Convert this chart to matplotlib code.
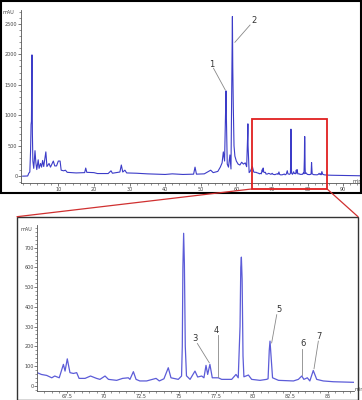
import matplotlib.pyplot as plt
from matplotlib.patches import Rectangle, ConnectionPatch
from matplotlib.ticker import MultipleLocator

# chromatogram trace (retention time in min, absorbance in mAU)
rt = [0.0, 1.4, 1.7, 2.0, 2.2, 2.35, 2.45, 2.6, 2.72, 2.85, 3.1, 3.45, 3.7, 3.95,
      4.35, 4.6, 5.0, 5.3, 5.6, 5.9, 6.5, 6.8, 7.4, 7.8, 8.6, 9.0, 9.5, 10.0, 10.5,
      10.8, 11.5, 12.0, 12.5, 15.0, 17.4, 17.7, 18.0, 20.0, 21.0, 24.0, 24.8, 25.2,
      27.3, 27.7, 28.1, 28.7, 29.2, 32.0, 35.0, 40.0, 42.0, 45.0, 48.0, 48.4, 48.8,
      51.0, 52.8, 53.5, 54.8, 55.5, 56.0, 56.35, 56.7, 57.0, 57.1, 57.2, 57.45, 57.8,
      58.2, 58.5, 58.8, 58.9, 59.0, 59.15, 59.35, 59.6, 60.0, 60.5, 61.0, 61.5, 62.0,
      62.5, 62.9, 63.2, 63.25, 63.3, 63.6, 64.0, 64.5, 64.9, 65.2,
      65.53, 65.8, 66.16, 66.5, 66.7, 67.0, 67.28, 67.39, 67.54, 67.72, 67.95, 68.17,
      68.33, 68.73, 69.1, 69.5, 69.73, 70.07, 70.3, 70.85, 71.25, 71.63, 71.74, 71.97,
      72.15, 72.4, 72.86, 73.49, 73.71, 74.02, 74.31, 74.49, 74.98, 75.2, 75.25, 75.29,
      75.34, 75.39, 75.45, 75.53, 75.77, 76.1, 76.28, 76.55, 76.7, 76.84, 76.95, 77.1,
      77.26, 77.66, 77.89, 78.33, 78.56, 78.85, 79.0, 79.12, 79.17, 79.21, 79.26, 79.32,
      79.38, 79.68, 79.9, 80.46, 80.9, 81.0, 81.08, 81.13, 81.18, 81.3, 81.7, 82.7,
      83.03, 83.26, 83.4, 83.63, 83.8, 84.03, 84.26, 84.7, 85.37, 86.76, 90.0, 95.3]
mau = [2, 5, 50, 70, 400, 850, 900, 1990, 700, 250, 130, 420, 220, 110,
       270, 130, 210, 150, 260, 160, 400, 160, 210, 150, 250, 170, 170, 250, 250,
       100, 90, 100, 65, 55, 60, 135, 65, 60, 45, 45, 90, 50,
       70, 185, 70, 100, 55, 50, 40, 30, 40, 30, 35, 150, 35,
       40, 100, 60, 80, 150, 220, 400, 250, 1100, 1400, 1000, 200, 150,
       350, 120, 2000, 2620, 1800, 1150, 500, 330, 250, 200, 185, 230, 200,
       220, 157, 700, 860, 500, 60, 90, 160, 70, 65,
       66, 57, 52, 40, 49, 40, 108, 74, 136, 66, 62, 66,
       37, 37, 49, 37, 32, 49, 32, 27, 37, 40, 32, 71,
       32, 24, 24, 37, 24, 35, 91, 40, 32, 49, 200, 600,
       773, 620, 200, 50, 32, 74, 44, 49, 40, 103, 57, 108,
       40, 40, 32, 32, 32, 57, 40, 300, 600, 652, 540, 150,
       45, 54, 32, 27, 32, 35, 180, 226, 170, 40, 27, 24,
       32, 49, 32, 40, 24, 77, 32, 24, 20, 17, 14, 8]

# labelled peaks: number, label position, leader line start and end
peak_ids = ['1', '2']
peak_label_xy = [(53.0, 1836), (65.1, 2562)]
peak_lines = [((53.6, 1770), (56.9, 1415)), ((63.85, 2480), (59.6, 2197))]

zoom_ids = ['3', '4', '5', '6', '7']
zoom_label_xy = [(76.1, 239), (77.55, 279), (81.7, 385), (83.32, 214), (84.43, 251)]
zoom_lines = [((76.26, 214), (77.06, 116)), ((77.64, 256), (77.64, 45)),
              ((81.58, 360), (81.24, 217)), ((83.27, 188), (83.27, 52)),
              ((84.37, 226), (84.08, 86))]

top_xticks = [10, 20, 30, 40, 50, 60, 70, 80, 90]
top_yticks = [0, 500, 1000, 1500, 2000, 2500]
bot_xticks = [67.5, 70, 72.5, 75, 77.5, 80, 82.5, 85]
bot_xlabels = ['67.5', '70', '72.5', '75', '77.5', '80', '82.5', '85']
bot_yticks = [0, 100, 200, 300, 400, 500, 600, 700]
zoom_window = (64.3, 85.5)

W, H = 362, 400
fig = plt.figure(figsize=(W / 100, H / 100), dpi=100)


def fx(px):
    return px / W


def fy(py):
    return 1 - py / H


def style(ax):
    for s in ['top', 'right']:
        ax.spines[s].set_visible(False)
    for s in ['left', 'bottom']:
        ax.spines[s].set_color('#555555')
        ax.spines[s].set_linewidth(0.6)
    ax.tick_params(which='major', length=2.0, width=0.5, labelsize=3.5,
                   colors='#444444', pad=0.6)
    ax.tick_params(which='minor', length=1.2, width=0.4, colors='#444444')
    ax.patch.set_alpha(0)


# outer frames
fig.add_artist(Rectangle((fx(0.8), fy(193)), fx(360.5), 193 / H - 0.8 / H,
                         transform=fig.transFigure, fill=False,
                         edgecolor='black', linewidth=1.5))
fig.add_artist(Rectangle((fx(17), fy(399.5)), fx(341), (399.5 - 216.7) / H,
                         transform=fig.transFigure, fill=False,
                         edgecolor='#333333', linewidth=1.0))

# top: full chromatogram
ax1 = fig.add_axes([fx(21), fy(183), fx(341), (183 - 10) / H])
ax1.plot(rt, mau, color='#3c3cc8', linewidth=0.8)
ax1.set_xlim(-0.48, 95.3)
ax1.set_ylim(-110, 2726)
ax1.set_xticks(top_xticks)
ax1.set_yticks(top_yticks)
ax1.xaxis.set_minor_locator(MultipleLocator(2))
ax1.yaxis.set_minor_locator(MultipleLocator(100))
style(ax1)
ax1.text(-0.02, 1.0, 'mAU', transform=ax1.transAxes, fontsize=3.5,
         color='#444444', ha='right', va='top')
ax1.text(1.0, -0.005, 'min', transform=ax1.transAxes, fontsize=3.5,
         color='#444444', ha='right', va='bottom')
for pid, (lx, ly), (p0, p1) in zip(peak_ids, peak_label_xy, peak_lines):
    ax1.plot([p0[0], p1[0]], [p0[1], p1[1]], color='#888888', linewidth=0.6)
    ax1.text(lx, ly, pid, fontsize=6, color='#333333', ha='center', va='center')

ax1.add_patch(Rectangle((zoom_window[0], -208), zoom_window[1] - zoom_window[0],
                        939 + 208, fill=False, edgecolor='#e02020',
                        linewidth=1.3, clip_on=False, zorder=5))

# bottom: zoomed region
ax2 = fig.add_axes([fx(37.3), fy(391), fx(354 - 37.3), (391 - 225) / H])
ax2.plot(rt, mau, color='#5c5cd8', linewidth=0.9)
ax2.set_xlim(65.53, 86.76)
ax2.set_ylim(-27, 815)
ax2.set_xticks(bot_xticks)
ax2.set_xticklabels(bot_xlabels)
ax2.set_yticks(bot_yticks)
ax2.xaxis.set_minor_locator(MultipleLocator(0.5))
ax2.yaxis.set_minor_locator(MultipleLocator(20))
style(ax2)
ax2.tick_params(axis='x', which='major', length=1.5, pad=0.3)
ax2.text(-0.015, 0.985, 'mAU', transform=ax2.transAxes, fontsize=3.5,
         color='#444444', ha='right', va='top')
ax2.text(1.03, -0.005, 'min', transform=ax2.transAxes, fontsize=3.5,
         color='#444444', ha='right', va='bottom')
for pid, (lx, ly), (p0, p1) in zip(zoom_ids, zoom_label_xy, zoom_lines):
    ax2.plot([p0[0], p1[0]], [p0[1], p1[1]], color='#888888', linewidth=0.6)
    ax2.text(lx, ly, pid, fontsize=6, color='#333333', ha='center', va='center')

# red connectors from the window to the zoom panel
for xw, target in [(zoom_window[0], (fx(17), fy(216.7))),
                   (zoom_window[1], (fx(358), fy(216.7)))]:
    con = ConnectionPatch(xyA=(xw, -208), coordsA=ax1.transData,
                          xyB=target, coordsB=fig.transFigure,
                          color='#d03030', linewidth=0.9)
    fig.add_artist(con)

fig.savefig('out.png', dpi=100)
